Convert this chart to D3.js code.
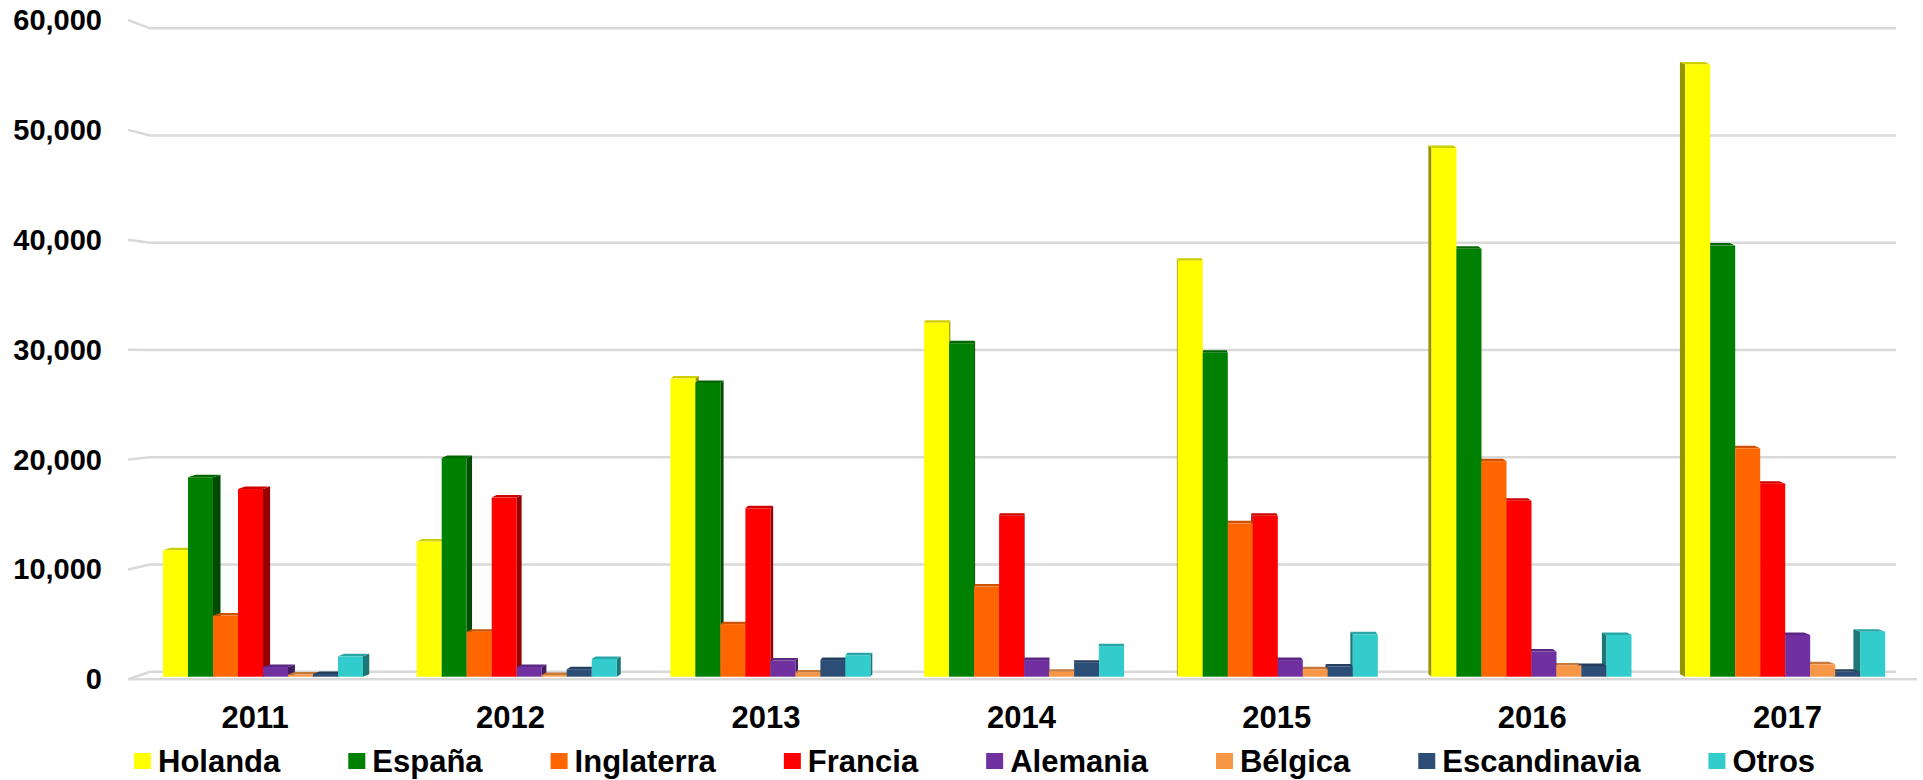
<!DOCTYPE html>
<html>
<head>
<meta charset="utf-8">
<script src="https://cdn.jsdelivr.net/npm/d3@7"></script>
<style>
	body { margin: 0; background: #fff; }
	svg text { font-family: "Liberation Sans", Arial, sans-serif; font-weight: bold; fill: #000; }
</style>
</head>
<body>
<div id="chart-area"></div>
<script>

// categories, series and values
let years = ["2011", "2012", "2013", "2014", "2015", "2016", "2017"];
let series = ["Holanda", "España", "Inglaterra", "Francia", "Alemania", "Bélgica", "Escandinavia", "Otros"];
let colors = ["#ffff00", "#008000", "#ff6600", "#ff0000", "#7030a0", "#f79646", "#2c4d75", "#33cccc"];

let holanda = [11800, 12600, 27800, 33000, 38800, 49300, 57100];
let espana = [18600, 20400, 27400, 31100, 30200, 39900, 40200];
let inglaterra = [5700, 4200, 4900, 8400, 14300, 20100, 21300];
let francia = [17500, 16700, 15700, 15000, 15000, 16400, 18000];
let alemania = [900, 900, 1500, 1550, 1550, 2350, 3900];
let belgica = [200, 150, 400, 470, 700, 1050, 1150];
let escandinavia = [250, 700, 1550, 1300, 950, 1000, 450];
let otros = [1900, 1650, 2000, 2850, 3950, 3900, 4200];

let yTicks = [0, 10000, 20000, 30000, 40000, 50000, 60000];

let values = [holanda, espana, inglaterra, francia, alemania, belgica, escandinavia, otros];

let width = 1923, height = 780;

let svg = d3.select("#chart-area").append("svg")
	.attr("width", width)
	.attr("height", height);

// back wall scale, front edge of side wall, and bar front faces
let yBack = d3.scaleLinear().domain([0, 60000]).range([671.7, 28.3]);
let yFront = d3.scaleLinear().domain([0, 60000]).range([679.3, 20]);
let yBar = d3.scaleLinear().domain([0, 60000]).range([676.7, 33.3]);

let xLabel = d3.scaleBand().domain(years).range([127.5, 127.5 + 7 * 255.4]);
let xGroup = d3.scaleBand().domain(years).range([163, 163 + 7 * 253.7]);
let xSeries = d3.scaleBand().domain(series).range([0, 200]);

// gridlines with a short slanted piece on the side wall
let grid = svg.append("g");
yTicks.forEach(v => {
	grid.append("path")
		.attr("d", `M128,${yFront(v)}L150,${yBack(v)}L1896,${yBack(v)}`)
		.attr("fill", "none")
		.attr("stroke", "#d9d9d9")
		.attr("stroke-width", 2.5);
});
grid.append("line")
	.attr("x1", 128).attr("x2", 1917)
	.attr("y1", yFront(0)).attr("y2", yFront(0))
	.attr("stroke", "#d9d9d9")
	.attr("stroke-width", 2.5);

// y axis labels
svg.append("g").selectAll("text")
	.data(yTicks)
	.join("text")
	.attr("x", 102)
	.attr("y", d => yFront(d) + 10)
	.attr("text-anchor", "end")
	.attr("font-size", "29px")
	.text(d => d3.format(",")(d));

// x axis labels
svg.append("g").selectAll("text")
	.data(years)
	.join("text")
	.attr("x", d => xLabel(d) + xLabel.bandwidth() / 2)
	.attr("y", 728)
	.attr("text-anchor", "middle")
	.attr("font-size", "31px")
	.text(d => d);

// flatten bars
let bars = [];
years.forEach((yr, i) => {
	series.forEach((s, j) => {
		let x0 = xGroup(yr) + xSeries(s);
		let x1 = x0 + xSeries.bandwidth();
		let cx = (x0 + x1) / 2;
		bars.push({
			year: yr, name: s, value: values[j][i], color: colors[j],
			x0: x0, x1: x1,
			dx: 0.00855 * (1081 - cx), // perspective: side face left or right
			dy: -2.5
		});
	});
});

function sidePath(d) {
	let top = yBar(d.value), bot = yBar(0);
	let xe = d.dx >= 0 ? d.x1 : d.x0;
	return `M${xe},${top}L${xe + d.dx},${top + d.dy}L${xe + d.dx},${bot + d.dy}L${xe},${bot}Z`;
}
function topPath(d) {
	let top = yBar(d.value);
	return `M${d.x0},${top}L${d.x1},${top}L${d.x1 + d.dx},${top + d.dy}L${d.x0 + d.dx},${top + d.dy}Z`;
}

let depth = svg.append("g");
depth.selectAll(".side")
	.data(bars)
	.join("path")
	.attr("class", "side")
	.attr("d", sidePath)
	.attr("fill", d => d3.color(d.color).darker(1.5));
depth.selectAll(".top")
	.data(bars)
	.join("path")
	.attr("class", "top")
	.attr("d", topPath)
	.attr("fill", d => d3.color(d.color).darker(0.6));

svg.append("g").selectAll("rect")
	.data(bars)
	.join("rect")
	.attr("x", d => d.x0)
	.attr("y", d => yBar(d.value))
	.attr("width", d => d.x1 - d.x0)
	.attr("height", d => yBar(0) - yBar(d.value))
	.attr("fill", d => d.color);

// legend, laid out one entry after the other
let legend = svg.append("g");
let lx = 134;
series.forEach((s, j) => {
	legend.append("rect")
		.attr("x", lx).attr("y", 753)
		.attr("width", 17).attr("height", 16)
		.attr("fill", colors[j]);
	let t = legend.append("text")
		.attr("x", lx + 24)
		.attr("y", 772)
		.attr("font-size", "31px")
		.text(s);
	lx += 24 + t.node().getComputedTextLength() + 68;
});

</script>
</body>
</html>
